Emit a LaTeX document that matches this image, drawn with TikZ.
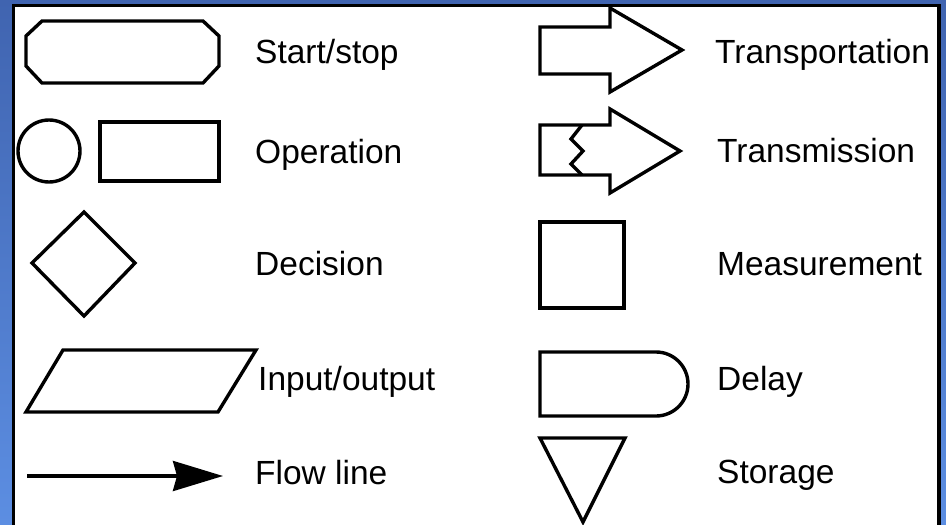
\documentclass[tikz,border=0pt]{standalone}
\usepackage{fontspec}
\setmainfont{Liberation Sans}
\usetikzlibrary{arrows.meta}
\definecolor{bgtop}{RGB}{64,100,176}
\definecolor{bgbot}{RGB}{92,142,226}
\tikzset{
  shapeline/.style={draw=black, line width=3.4pt, line join=miter},
  lbl/.style={anchor=base west, inner sep=0pt, font=\fontsize{33.5}{40}\selectfont},
}
\begin{document}
\begin{tikzpicture}[x=1pt,y=-1pt]
\useasboundingbox (0,0) rectangle (946,525);
\clip (0,0) rectangle (946,525);
\shade[top color=bgtop, bottom color=bgbot] (0,0) rectangle (946,525);
% panel
\filldraw[fill=white, draw=black, line width=3.5pt] (13.5,5.5) rectangle (939,545);

% left column shapes
\draw[shapeline] (42,21) -- (203,21) -- (219,36) -- (219,66) -- (203,83) -- (42,83) -- (26,66) -- (26,36) -- cycle;
\draw[shapeline] (49,151) circle (31);
\draw[shapeline] (100,122) rectangle (219,181);
\draw[shapeline] (32,263) -- (84,212) -- (135,263) -- (84,316) -- cycle;
\draw[shapeline] (63,350) -- (256,350) -- (218,412) -- (26,412) -- cycle;
\coordinate (fl0) at (27,476);
\coordinate (fl1) at (223,476);
\draw[line width=3.4pt, -{Stealth[length=50pt,width=30pt,inset=4pt]}] (fl0) -- (fl1);

% right column shapes
\draw[shapeline] (540,27) -- (610,27) -- (610,8) -- (682,50) -- (610,92) -- (610,74) -- (540,74) -- cycle;
\draw[shapeline] (540,125) -- (610,125) -- (610,109) -- (680,151) -- (610,193) -- (610,175) -- (540,175) -- cycle;
\draw[shapeline] (582,125) -- (571,139) -- (583,151) -- (571,164) -- (582,175);
\draw[shapeline] (540,222) rectangle (624,308);
\draw[shapeline] (540,352) -- (656,352) arc[start angle=-90, end angle=90, radius=32] -- (540,416) -- cycle;
\draw[shapeline] (540,438) -- (625,438) -- (583,522) -- cycle;

% labels
\node[lbl] (t1) at (255,63) {Start/stop};
\node[lbl] (t2) at (255,163) {Operation};
\node[lbl] (t3) at (255,275) {Decision};
\node[lbl] (t4) at (258,390) {Input/output};
\node[lbl] (t5) at (255,484) {Flow line};
\node[lbl] (t6) at (715,63) {Transportation};
\node[lbl] (t7) at (717,162) {Transmission};
\node[lbl] (t8) at (717,275) {Measurement};
\node[lbl] (t9) at (717,390) {Delay};
\node[lbl] (t10) at (717,483) {Storage};
\end{tikzpicture}
\end{document}
